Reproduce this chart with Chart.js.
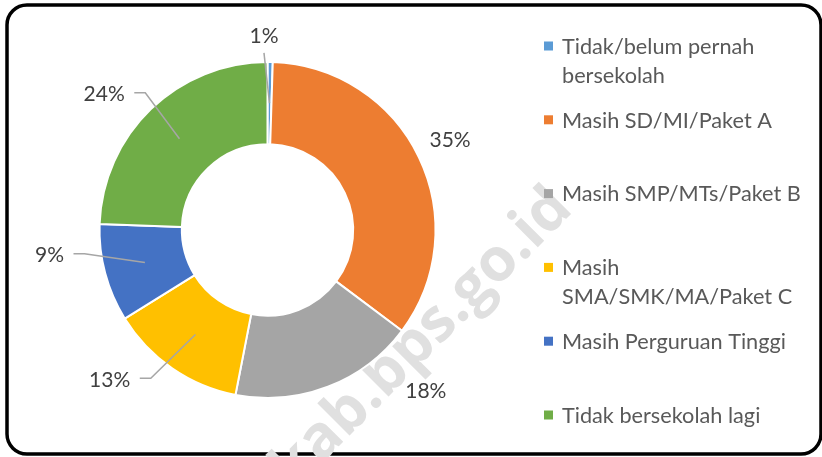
<!DOCTYPE html>
<html><head><meta charset="utf-8">
<script src="https://cdn.jsdelivr.net/npm/chart.js@4/dist/chart.umd.min.js"></script>
<style>html,body{margin:0;padding:0;background:#fff;overflow:hidden}#wrap{position:relative;width:822px;height:457px}</style>
</head><body><div id="wrap"><canvas id="c" width="822" height="457"></canvas></div>
<script>
const categories = ["Tidak/belum pernah bersekolah","Masih SD/MI/Paket A","Masih SMP/MTs/Paket B","Masih SMA/SMK/MA/Paket C","Masih Perguruan Tinggi","Tidak bersekolah lagi"];
const shares = [0.5, 34.7, 17.8, 13.1, 9.4, 24.4];
const sliceColors = ["#5B9BD5","#ED7D31","#A5A5A5","#FFC000","#4472C4","#70AD47"];
const watermarkText = "kab.bps.go.id";

const FONT = "Lato, 'Open Sans', sans-serif";

const framePlugin = {
  id: 'frame',
  beforeDraw(chart, args, o) {
    const ctx = chart.ctx;
    ctx.save();
    ctx.fillStyle = '#fff';
    ctx.fillRect(0, 0, chart.width, chart.height);
    ctx.beginPath();
    ctx.roundRect(o.x, o.y, o.w, o.h, o.r);
    ctx.lineWidth = o.lw;
    ctx.strokeStyle = '#000';
    ctx.stroke();
    // watermark
    ctx.font = "bold " + o.wmSize + "px 'Open Sans', sans-serif";
    ctx.fillStyle = o.wmColor;
    ctx.translate(o.wmX, o.wmY);
    ctx.rotate(o.wmAngle * Math.PI / 180);
    const lead = ctx.measureText(watermarkText.slice(0,1)).width + ctx.measureText(watermarkText.slice(1,2)).width / 2;
    ctx.textBaseline = 'alphabetic';
    ctx.fillText(watermarkText, -lead, o.wmSize * 0.27);
    ctx.restore();
  }
};

const sliceLabelPlugin = {
  id: 'sliceLabels',
  afterDatasetsDraw(chart, args, o) {
    const ctx = chart.ctx;
    const meta = chart.getDatasetMeta(0);
    const data = chart.data.datasets[0].data;
    const total = data.reduce((a, b) => a + b, 0);
    ctx.save();
    ctx.font = o.size + "px " + FONT;
    const capH = o.size * 0.7165;
    meta.data.forEach((arc, i) => {
      const p = arc.getProps(['x','y','startAngle','endAngle','innerRadius','outerRadius'], true);
      const mid = (p.startAngle + p.endAngle) / 2;
      const place = o.place[i];
      const a = mid + place.turn * Math.PI / 180;
      const d = p.outerRadius * place.reach;
      const cx = p.x + d * Math.cos(a), cy = p.y + d * Math.sin(a);
      const txt = Math.round(data[i] / total * 100) + '%';
      const w = ctx.measureText(txt).width;
      ctx.fillStyle = o.color;
      ctx.textAlign = 'center';
      ctx.textBaseline = 'alphabetic';
      ctx.fillText(txt, cx, cy + capH / 2);
      if (place.leader) {
        const rm = (p.innerRadius + p.outerRadius) / 2;
        const ex = p.x + rm * Math.cos(mid), ey = p.y + rm * Math.sin(mid);
        ctx.beginPath();
        ctx.strokeStyle = o.leaderColor;
        ctx.lineWidth = o.leaderWidth;
        if (place.leader === 'h') {
          const sx = cx + w / 2 + o.gap, sy = cy - 1;
          ctx.moveTo(sx, sy);
          ctx.lineTo(sx + o.elbow, sy);
        } else {
          ctx.moveTo(cx, cy + capH / 2 + o.gap);
        }
        ctx.lineTo(ex, ey);
        ctx.stroke();
      }
    });
    ctx.restore();
  }
};

const sideLegendPlugin = {
  id: 'sideLegend',
  afterDraw(chart, args, o) {
    const ctx = chart.ctx;
    ctx.save();
    ctx.font = o.size + "px " + FONT;
    const capH = o.size * 0.7165;
    chart.data.labels.forEach((lab, i) => {
      const words = lab.split(' ');
      const lines = [];
      let cur = '';
      words.forEach(wd => {
        const t = cur ? cur + ' ' + wd : wd;
        if (cur && ctx.measureText(t).width > o.maxWidth) { lines.push(cur); cur = wd; }
        else cur = t;
      });
      lines.push(cur);
      const y0 = o.top + i * o.slot;
      ctx.fillStyle = chart.data.datasets[0].backgroundColor[i];
      ctx.fillRect(o.boxX, y0 - o.box / 2, o.box, o.box);
      ctx.fillStyle = o.color;
      ctx.textAlign = 'left';
      ctx.textBaseline = 'alphabetic';
      lines.forEach((ln, j) => ctx.fillText(ln, o.textX, y0 + j * o.lineH + capH / 2));
    });
    ctx.restore();
  }
};

new Chart(document.getElementById('c'), {
  type: 'doughnut',
  data: {
    labels: categories,
    datasets: [{ data: shares, backgroundColor: sliceColors, borderColor: '#fff', borderWidth: 2 }]
  },
  options: {
    responsive: false,
    animation: false,
    cutout: '51%',
    rotation: 0,
    layout: { padding: { left: 98.5, right: 385.5, top: 61, bottom: 58 } },
    plugins: {
      legend: { display: false },
      tooltip: { enabled: false },
      frame: { x: 7, y: 5, w: 814, h: 449, r: 20, lw: 3.5, wmSize: 60, wmColor: '#e0e0e0', wmX: 322, wmY: 440, wmAngle: -45 },
      sliceLabels: {
        size: 21, color: '#404040', leaderColor: '#a6a6a6', leaderWidth: 1.5, gap: 9.5, elbow: 11,
        place: [
          { turn: -1.94, reach: 1.156, leader: 'v' },
          { turn: -0.7, reach: 1.213, leader: null },
          { turn: -23.6, reach: 1.34, leader: null },
          { turn: 12.0, reach: 1.293, leader: 'h' },
          { turn: 8.4, reach: 1.306, leader: 'h' },
          { turn: -6.2, reach: 1.266, leader: 'h' }
        ]
      },
      sideLegend: { size: 21.7, color: '#595959', boxX: 544, box: 9, textX: 562, top: 46, slot: 73.8, lineH: 29, maxWidth: 255 }
    }
  },
  plugins: [framePlugin, sliceLabelPlugin, sideLegendPlugin]
});
</script>
</body></html>
